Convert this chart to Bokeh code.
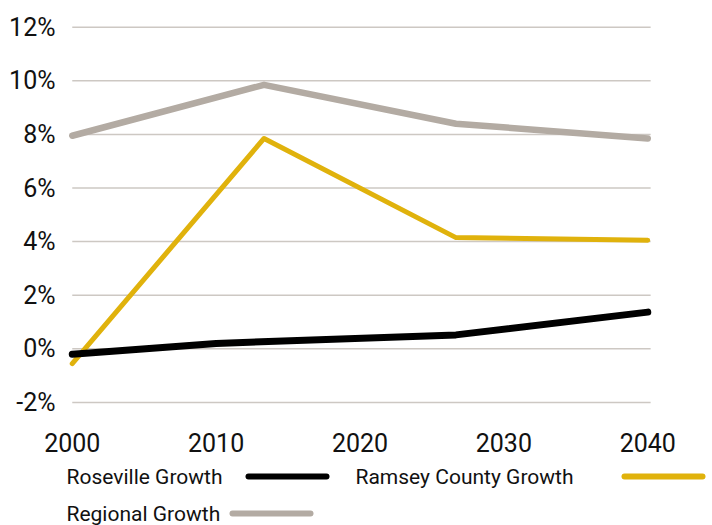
from bokeh.plotting import figure
from bokeh.models import Range1d, FixedTicker
from bokeh.layouts import column
from bokeh.embed import file_html
from bokeh.resources import INLINE
from bokeh.core.properties import value

# ---- data ----
years3 = [2000, 2013.33, 2026.67, 2040]
roseville_x = [2000, 2010, 2026.67, 2040]
roseville = [-0.2, 0.2, 0.52, 1.37]
ramsey = [-0.55, 7.85, 4.15, 4.05]
regional = [7.95, 9.85, 8.4, 7.85]

x_ticks = [2000, 2010, 2020, 2030, 2040]
y_ticks = [-2, 0, 2, 4, 6, 8, 10, 12]
y_tick_labels = ["-2%", "0%", "2%", "4%", "6%", "8%", "10%", "12%"]

series_names = ["Roseville Growth", "Ramsey County Growth", "Regional Growth"]
series_colors = ["#000000", "#e0b20c", "#b3aba3"]

FONT = "Roboto"
LEFT = 66

p = figure(width=712, height=460, output_backend="svg", toolbar_location=None,
           x_range=Range1d(1999.6, 2044.5), y_range=Range1d(-2.6, 12.4),
           min_border_left=LEFT, min_border_right=0, min_border_top=16, min_border_bottom=42)
p.outline_line_color = None
p.xgrid.visible = False
p.ygrid.visible = False

# horizontal gridlines
p.segment(x0=[2000] * len(y_ticks), x1=[2040.2] * len(y_ticks), y0=y_ticks, y1=y_ticks,
          line_color="#cdc8c3", line_width=1.5)

p.line(years3, regional, line_color=series_colors[2], line_width=6.5, line_join="round", line_cap="round")
p.line(years3, ramsey, line_color=series_colors[1], line_width=5, line_join="round", line_cap="round")
p.line(roseville_x, roseville, line_color=series_colors[0], line_width=7, line_join="round", line_cap="round")

for ax in (p.xaxis[0], p.yaxis[0]):
    ax.axis_line_color = None
    ax.major_tick_line_color = None
    ax.minor_tick_line_color = None
    ax.major_label_text_font = FONT
    ax.major_label_text_font_size = "25px"
    ax.major_label_text_color = "#111111"

p.xaxis.ticker = FixedTicker(ticks=x_ticks)
p.xaxis.major_label_standoff = 8
p.yaxis.ticker = FixedTicker(ticks=y_ticks)
p.yaxis.major_label_overrides = {t: l for t, l in zip(y_ticks, y_tick_labels)}
p.yaxis.major_label_standoff = 5

# ---- legend (label, then sample line); x range in page pixels ----
lg = figure(width=712, height=65, output_backend="svg", toolbar_location=None,
            x_range=Range1d(LEFT, 712), y_range=Range1d(65, 0),
            min_border_left=LEFT, min_border_right=0, min_border_top=0, min_border_bottom=0)
lg.outline_line_color = None
lg.axis.visible = False
lg.grid.visible = False

text_x = [66, 355, 66]
text_y = [16, 16, 53]
line_x0 = [248, 624, 232]
line_len = 78
lg.text(x=text_x, y=text_y, text=series_names, text_font=value(FONT),
        text_font_size="21px", text_baseline="middle", text_align="left", text_color="#111111")
lg.segment(x0=line_x0, x1=[x + line_len for x in line_x0], y0=text_y, y1=text_y,
           line_color=series_colors, line_width=6, line_cap="round")

layout = column(p, lg, spacing=0)
open("out.html", "w").write(file_html(layout, INLINE))
